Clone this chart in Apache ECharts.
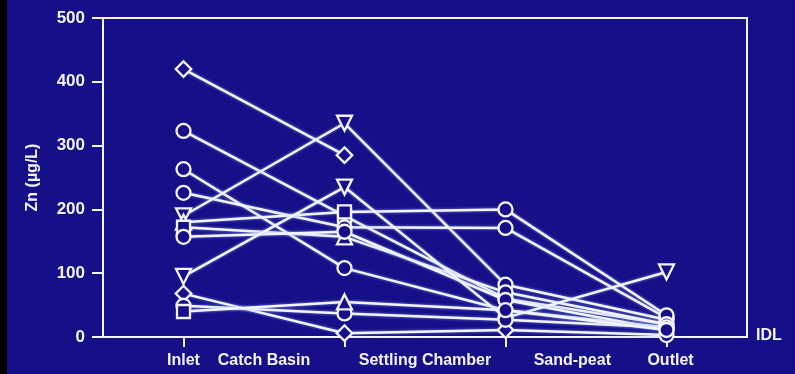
<!DOCTYPE html>
<html>
<head>
<meta charset="utf-8">
<script src="https://cdn.jsdelivr.net/npm/echarts@6/dist/echarts.min.js"></script>
<style>
  html, body { margin: 0; padding: 0; background: #150f88; }
  #chart { width: 795px; height: 374px; }
</style>
</head>
<body>
<div id="chart"></div>
<script>
// station positions on the x scale, and where the labels sit
const stationX = [1, 3, 5, 7];
const labelX = [1, 2, 4, 5.83, 7.05];
const labelText = ['Inlet', 'Catch Basin', 'Settling Chamber', 'Sand-peat', 'Outlet'];
const yTicks = [0, 100, 200, 300, 400, 500];

// Zn (ug/L) per storm event: Inlet, after catch basin, after settling chamber, outlet
const event1 = [420, 285, null, null];
const event2 = [323, 190, 60, 20];
const event3 = [263, 108, 42, 15];
const event4 = [226, 172, 171, 30];
const event5 = [190, 335, 82, 27];
const event6 = [180, 196, 200, 34];
const event7 = [172, 157, 70, 20];
const event8 = [157, 165, 58, 11];
const event9 = [95, 235, 30, 102];
const event10 = [68, 6, 11, 3];
const event11 = [49, 37, 27, 15];
const event12 = [40, 55, 42, 11];

const events = [event1, event2, event3, event4, event5, event6, event7, event8, event9, event10, event11, event12];
// marker per point: o circle, s square, v triangle down, ^ triangle up, d diamond
const markers = [
  ['d', 'd', 'o', 'o'],
  ['o', 's', 'o', 'o'],
  ['o', 'o', 'o', 'o'],
  ['o', 'o', 'o', 'o'],
  ['v', 'v', 'o', 'o'],
  ['^', 's', 'o', 'o'],
  ['s', '^', 'o', 'o'],
  ['o', 'o', 'o', 'o'],
  ['v', 'v', 'o', 'v'],
  ['d', 'd', 'd', 'o'],
  ['o', 'o', 'o', 'o'],
  ['s', '^', 'o', 'o']
];

const BG = '#150f88';
const FG = '#f4f4ff';
const SYM = {
  o: { symbol: 'circle', size: 14, rotate: 0 },
  s: { symbol: 'rect', size: 13, rotate: 0 },
  v: { symbol: 'triangle', size: 15, rotate: 180 },
  '^': { symbol: 'triangle', size: 15, rotate: 0 },
  d: { symbol: 'rect', size: 11, rotate: 45 }
};

const series = events.map((vals, k) => ({
  type: 'line',
  data: stationX.map((x, i) => {
    const m = SYM[markers[k][i]];
    return vals[i] == null ? null : {
      value: [x, vals[i]],
      symbol: m.symbol,
      symbolSize: m.size,
      symbolRotate: m.rotate
    };
  }).filter(d => d),
  showAllSymbol: true,
  lineStyle: { color: FG, width: 2.5, shadowColor: 'rgba(160,190,255,0.7)', shadowBlur: 3 },
  itemStyle: { color: BG, borderColor: FG, borderWidth: 2.3 },
  emphasis: { disabled: true }
}));

const chart = echarts.init(document.getElementById('chart'));
const font = { fontFamily: 'Liberation Sans', fontWeight: 'bold', color: FG };

chart.setOption({
  backgroundColor: BG,
  animation: false,
  grid: {
    left: 103, right: 48, top: 18, bottom: 37,
    show: true, borderColor: FG, borderWidth: 2
  },
  xAxis: {
    type: 'value', min: 0, max: 8,
    axisLine: { lineStyle: { color: FG, width: 2 } },
    axisTick: { customValues: stationX, length: 10, lineStyle: { color: FG, width: 2 } },
    axisLabel: {
      customValues: labelX, margin: 16, ...font, fontSize: 16,
      formatter: v => labelText[labelX.indexOf(v)] || ''
    },
    splitLine: { show: false }
  },
  yAxis: {
    type: 'value', min: yTicks[0], max: yTicks[yTicks.length - 1], interval: 100,
    name: 'Zn (µg/L)', nameLocation: 'middle', nameGap: 62, nameRotate: 90,
    nameTextStyle: { ...font, fontSize: 16 },
    axisLine: { show: true, lineStyle: { color: FG, width: 2 } },
    axisTick: { show: true, length: 11, lineStyle: { color: FG, width: 2 } },
    axisLabel: { margin: 18, ...font, fontSize: 17 },
    splitLine: { show: false }
  },
  graphic: [
    { type: 'rect', left: 0, top: 0, shape: { width: 7, height: 374 }, style: { fill: '#000' } },
    { type: 'text', left: 756, top: 328, style: { text: 'IDL', fill: FG, font: 'bold 16px "Liberation Sans"' } }
  ],
  series: series
});
</script>
</body>
</html>
